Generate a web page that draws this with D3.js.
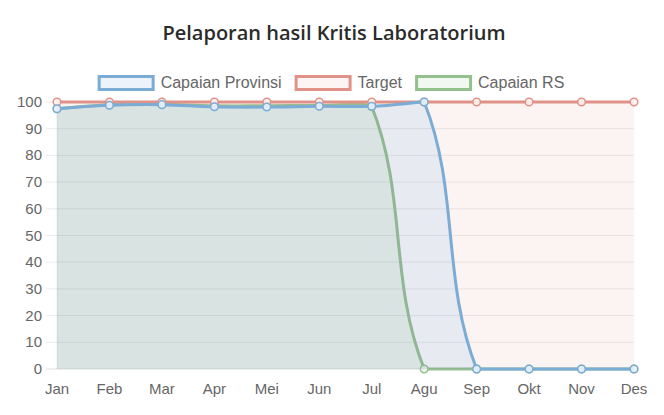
<!DOCTYPE html>
<html>
<head>
<meta charset="utf-8">
<script src="https://cdn.jsdelivr.net/npm/d3@7"></script>
<style>
  html, body { margin: 0; padding: 0; background: #fff; }
  svg { display: block; }
</style>
</head>
<body>
<svg id="chart" width="664" height="415"></svg>
<script>
const months = ["Jan", "Feb", "Mar", "Apr", "Mei", "Jun", "Jul", "Agu", "Sep", "Okt", "Nov", "Des"]
const capaianProvinsi = [97.5, 98.8, 99, 98.2, 98.1, 98.4, 98.4, 100, 0, 0, 0, 0]
const target = [100, 100, 100, 100, 100, 100, 100, 100, 100, 100, 100, 100]
const capaianRS = [97.5, 99, 99.2, 98.6, 98.6, 98.7, 98.3, 0, 0, 0, 0, 0]
const yTicks = [0, 10, 20, 30, 40, 50, 60, 70, 80, 90, 100]

const series = [
  { name: "Capaian Provinsi", values: capaianProvinsi, stroke: "rgb(122,172,214)", fill: "rgba(52,152,219,0.1)", point: "rgba(234,242,250,0.9)" },
  { name: "Target", values: target, stroke: "rgb(224,146,136)", fill: "rgba(224,147,138,0.1)", point: "rgba(252,244,243,0.9)" },
  { name: "Capaian RS", values: capaianRS, stroke: "rgb(148,192,141)", fill: "rgba(100,180,100,0.1)", point: "rgba(239,247,239,0.9)" },
]

const svg = d3.select("#chart")
const area = { left: 57, right: 634, top: 102, bottom: 369 }

const x = d3.scalePoint().domain(months).range([area.left, area.right])
const y = d3.scaleLinear().domain([0, 100]).range([area.bottom, area.top])

// Title
svg.append("text")
  .attr("x", 334)
  .attr("y", 40)
  .attr("text-anchor", "middle")
  .style("font-family", "'Open Sans', 'Noto Sans', sans-serif")
  .style("font-weight", 600)
  .style("font-size", "20px")
  .style("fill", "#2b2b2b")
  .text("Pelaporan hasil Kritis Laboratorium")

// Grid lines + y labels
const grid = svg.append("g")
yTicks.forEach((t) => {
  grid.append("line")
    .attr("x1", area.left - 11)
    .attr("x2", area.right)
    .attr("y1", y(t))
    .attr("y2", y(t))
    .attr("stroke", t === 0 ? "rgba(0,0,0,0.13)" : "rgba(0,0,0,0.08)")
    .attr("stroke-width", 1)
  grid.append("text")
    .attr("x", 42)
    .attr("y", y(t) + 5)
    .attr("text-anchor", "end")
    .style("font-family", "'Liberation Sans', Arial, sans-serif")
    .style("font-size", "15px")
    .style("fill", "#666")
    .text(t)
})
grid.append("line")
  .attr("x1", area.left).attr("x2", area.left)
  .attr("y1", area.top).attr("y2", area.bottom)
  .attr("stroke", "rgba(0,0,0,0.08)")

// x labels
svg.append("g").selectAll("text")
  .data(months)
  .join("text")
  .attr("x", (d) => x(d))
  .attr("y", 394)
  .attr("text-anchor", "middle")
  .style("font-family", "'Liberation Sans', Arial, sans-serif")
  .style("font-size", "15px")
  .style("fill", "#666")
  .text((d) => d)

// chart.js style bezier (tension 0.4, control points capped to the chart area)
function splinePath(pts, tension = 0.4) {
  const clampX = (v) => Math.max(area.left, Math.min(area.right, v))
  const clampY = (v) => Math.max(area.top, Math.min(area.bottom, v))
  const cps = pts.map((p, i) => {
    const prev = pts[Math.max(0, i - 1)]
    const next = pts[Math.min(pts.length - 1, i + 1)]
    const d01 = Math.hypot(p.x - prev.x, p.y - prev.y)
    const d12 = Math.hypot(next.x - p.x, next.y - p.y)
    let s01 = d01 / (d01 + d12)
    let s12 = d12 / (d01 + d12)
    if (isNaN(s01)) s01 = 0
    if (isNaN(s12)) s12 = 0
    const fa = tension * s01
    const fb = tension * s12
    return {
      px: clampX(p.x - fa * (next.x - prev.x)),
      py: clampY(p.y - fa * (next.y - prev.y)),
      nx: clampX(p.x + fb * (next.x - prev.x)),
      ny: clampY(p.y + fb * (next.y - prev.y)),
    }
  })
  let d = `M${pts[0].x},${pts[0].y}`
  for (let i = 1; i < pts.length; i++) {
    d += `C${cps[i - 1].nx},${cps[i - 1].ny},${cps[i].px},${cps[i].py},${pts[i].x},${pts[i].y}`
  }
  return d
}

// chart.js draws the last dataset first
series.slice().reverse().forEach((s) => {
  const pts = s.values.map((v, i) => ({ x: x(months[i]), y: y(v) }))
  const line = splinePath(pts)
  const g = svg.append("g")

  g.append("path")
    .attr("d", line + `L${pts[pts.length - 1].x},${y(0)}L${pts[0].x},${y(0)}Z`)
    .attr("fill", s.fill)

  g.append("path")
    .attr("d", line)
    .attr("fill", "none")
    .attr("stroke", s.stroke)
    .attr("stroke-width", 3)

  g.selectAll("circle")
    .data(pts)
    .join("circle")
    .attr("cx", (d) => d.x)
    .attr("cy", (d) => d.y)
    .attr("r", 3.8)
    .attr("fill", s.point)
    .attr("stroke", s.stroke)
    .attr("stroke-width", 1.5)
})

// Legend
const legend = svg.append("g")
const items = series.map((s) => {
  const t = legend.append("text")
    .attr("y", 88)
    .style("font-family", "'Liberation Sans', Arial, sans-serif")
    .style("font-size", "16px")
    .style("fill", "#666")
    .text(s.name)
  return { s, t, w: t.node().getComputedTextLength() }
})
const boxW = 54, gap = 6, itemPad = 13
const total = d3.sum(items, (d) => boxW + 3 + gap + d.w) + itemPad * (items.length - 1)
let cx = 331 - total / 2
items.forEach(({ s, t, w }) => {
  legend.append("rect")
    .attr("x", cx + 1.5)
    .attr("y", 76.5)
    .attr("width", boxW)
    .attr("height", 13)
    .attr("fill", s.point)
    .attr("stroke", s.stroke)
    .attr("stroke-width", 3)
  t.attr("x", cx + boxW + 3 + gap)
  cx += boxW + 3 + gap + w + itemPad
})
</script>
</body>
</html>
